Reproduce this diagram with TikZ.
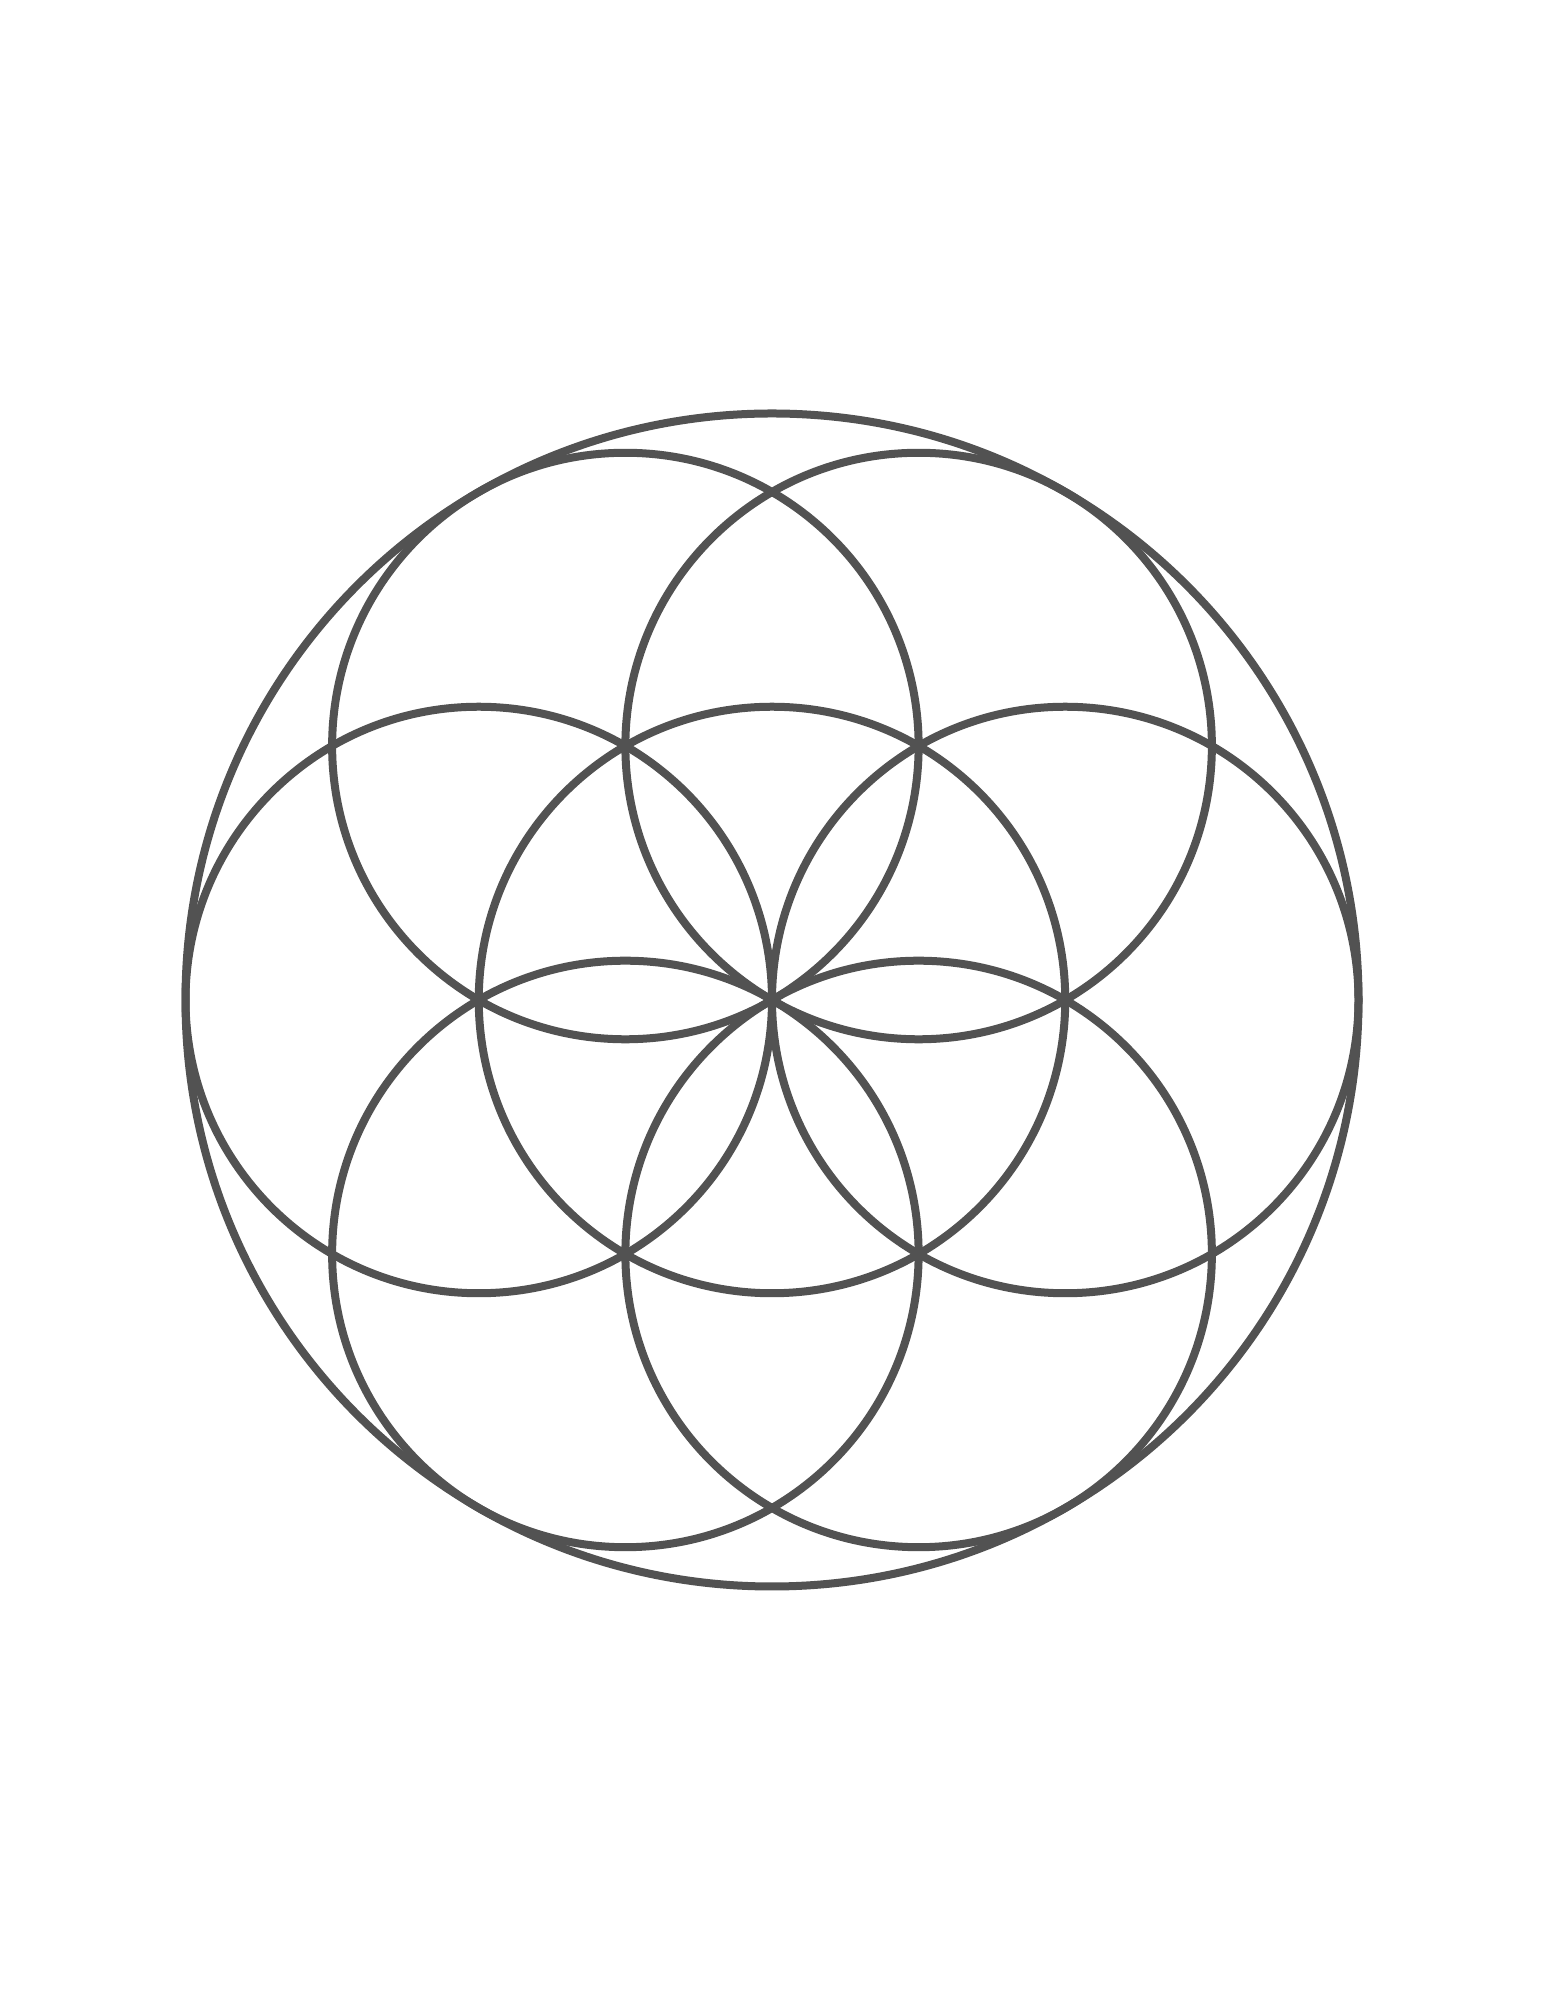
\documentclass[tikz,border=0pt]{standalone}
\usetikzlibrary{calc}
\begin{document}
\begin{tikzpicture}[line/.style={draw=linegray, line width=0.08cm}]
\definecolor{linegray}{HTML}{525252}
\useasboundingbox (0,0) rectangle (15.45,20);
\fill[white] (0,0) rectangle (15.45,20);
\coordinate (c) at (7.72,10.0);
\draw[line] (c) circle[radius=5.865];
\draw[line] (c) circle[radius=2.9325];
\foreach \a in {0,60,...,300}{
  \draw[line] ($(c)+(\a:2.9325)$) circle[radius=2.9325];
}
\end{tikzpicture}
\end{document}
